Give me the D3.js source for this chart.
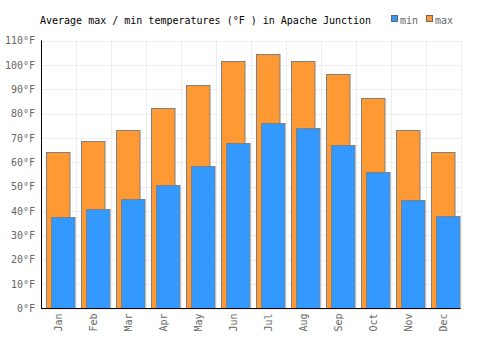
<!DOCTYPE html>
<html><head><meta charset="utf-8">
<script src="https://cdn.jsdelivr.net/npm/d3@7"></script>
<style>body{margin:0;background:#fff}svg{display:block}</style>
</head><body>
<svg id="c" width="500" height="350"></svg>
<script>
const months = ["Jan","Feb","Mar","Apr","May","Jun","Jul","Aug","Sep","Oct","Nov","Dec"];
const maxTemps = [64.2, 68.7, 73.2, 82.3, 91.8, 101.6, 104.5, 101.6, 96.3, 86.4, 73.2, 64.2];
const minTemps = [37.4, 40.7, 45.0, 50.7, 58.5, 67.9, 76.1, 74.1, 67.1, 56.0, 44.4, 37.9];
const yTicks = [0,10,20,30,40,50,60,70,80,90,100,110];
const title = "Average max / min temperatures (°F ) in Apache Junction";

const svg = d3.select("#c");
const L = 41, R = 460.5, T = 40.5, B = 308.5;
const x = d3.scaleBand().domain(months).range([L, R]);
const y = d3.scaleLinear().domain([0, 110]).range([B, T]);
const font = "'DejaVu Sans Mono', monospace";

// grid
svg.append("g").selectAll("line").data(yTicks).join("line")
  .attr("x1", L).attr("x2", R).attr("y1", d => Math.round(y(d)) + 0.5).attr("y2", d => Math.round(y(d)) + 0.5)
  .attr("stroke", "#eeeeee");
svg.append("g").selectAll("line").data(months.concat(["_end"])).join("line")
  .attr("x1", (d, i) => Math.round(L + i * x.bandwidth()) + 0.5)
  .attr("x2", (d, i) => Math.round(L + i * x.bandwidth()) + 0.5)
  .attr("y1", T).attr("y2", B).attr("stroke", "#eeeeee");

// bars
const bw = 23.5;
svg.append("g").selectAll("rect").data(maxTemps).join("rect")
  .attr("x", (d, i) => Math.round(x(months[i]) + 5) + 0.5)
  .attr("y", d => Math.round(y(d)) + 0.5)
  .attr("width", bw).attr("height", d => B - Math.round(y(d)) - 0.5)
  .attr("fill", "#ff9933").attr("stroke", "#808080").attr("stroke-width", 1);
svg.append("g").selectAll("rect").data(minTemps).join("rect")
  .attr("x", (d, i) => Math.round(x(months[i]) + 10) + 0.5)
  .attr("y", d => Math.round(y(d)) + 0.5)
  .attr("width", bw).attr("height", d => B - Math.round(y(d)) - 0.5)
  .attr("fill", "#3399ff").attr("stroke", "#808080").attr("stroke-width", 1);

// axes
const yAxis = d3.axisLeft(y).tickValues(yTicks).tickFormat(d => d + "°F").tickSize(0).tickPadding(6);
const gy = svg.append("g").attr("transform", `translate(${L},0)`).call(yAxis);
gy.select(".domain").remove();
gy.selectAll("text").attr("font-family", font).attr("font-size", "10px").attr("fill", "#666666");

const xAxis = d3.axisBottom(x).tickSize(0).tickPadding(0);
const gx = svg.append("g").attr("transform", `translate(0,${B})`).call(xAxis);
gx.select(".domain").remove();
gx.selectAll("text").attr("font-family", font).attr("font-size", "10px").attr("fill", "#666666")
  .attr("text-anchor", "end").attr("dy", "0.35em")
  .attr("transform", "translate(0,5) rotate(-90)").attr("x", 0).attr("y", 0);

svg.append("line").attr("x1", L + 0.5).attr("x2", L + 0.5).attr("y1", T).attr("y2", B).attr("stroke", "#000");
svg.append("line").attr("x1", L).attr("x2", R).attr("y1", B).attr("y2", B).attr("stroke", "#000");

// title
svg.append("text").attr("x", 40).attr("y", 24).text(title)
  .attr("font-family", font).attr("font-size", "10px").attr("fill", "#000");

// legend
const leg = [{k:"min", c:"#3399ff", x:391}, {k:"max", c:"#ff9933", x:426}];
const lg = svg.append("g").selectAll("g").data(leg).join("g");
lg.append("rect").attr("x", d => d.x + 0.5).attr("y", 15.5).attr("width", 6).attr("height", 6)
  .attr("fill", d => d.c).attr("stroke", "#666666");
lg.append("text").attr("x", d => d.x + 9).attr("y", 24).text(d => d.k)
  .attr("font-family", font).attr("font-size", "10px").attr("fill", "#666666");
</script>
</body></html>
